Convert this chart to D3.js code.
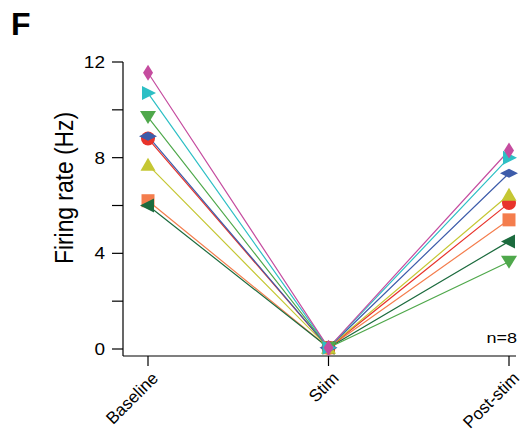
<!DOCTYPE html>
<html>
<head>
<meta charset="utf-8">
<script src="https://cdn.jsdelivr.net/npm/d3@7"></script>
<style>
  body { margin: 0; background: #fff; }
  svg { font-family: "Liberation Sans", Arial, sans-serif; }
</style>
</head>
<body>
<svg id="chart" width="522" height="431"></svg>
<script>
const categories = ["Baseline", "Stim", "Post-stim"];
const yTicks = [0, 4, 8, 12];
const yMinorTicks = [2, 6, 10];

// one unit per array: [Baseline, Stim, Post-stim]
const unitOrange = [6.2, 0.05, 5.4];
const unitDarkGreen = [6.0, 0.05, 4.5];
const unitRed = [8.8, 0.05, 6.1];
const unitYellow = [7.7, 0.05, 6.45];
const unitBlue = [8.9, 0.05, 7.35];
const unitGreen = [9.7, 0.05, 3.65];
const unitCyan = [10.7, 0.05, 8.0];
const unitMagenta = [11.55, 0.05, 8.3];

const units = [unitOrange, unitDarkGreen, unitRed, unitYellow, unitBlue, unitGreen, unitCyan, unitMagenta];
const colors = ["#f47d4d", "#1c6b3e", "#e8332b", "#c5c733", "#3d5caa", "#4fa84b", "#2dbfc5", "#c54c9f"];
const shapes = ["square", "triLeft", "circle", "triUp", "diamondWide", "triDown", "triRight", "diamondTall"];

const svg = d3.select("#chart");
const x = d3.scalePoint().domain(categories).range([148, 509]);
const y = d3.scaleLinear().domain([0, 12]).range([349, 62]);
const axisY = 356;

function shapePath(s) {
    switch (s) {
        case "square": return "M-6.5,-6.5H6.5V6.5H-6.5Z";
        case "circle": return d3.arc()({innerRadius: 0, outerRadius: 7, startAngle: 0, endAngle: 2 * Math.PI});
        case "triUp": return "M0,-7L7.5,6L-7.5,6Z";
        case "triDown": return "M0,7L8,-6L-8,-6Z";
        case "triLeft": return "M-8,0L6,-7L6,7Z";
        case "triRight": return "M8,0L-6,-7L-6,7Z";
        case "diamondWide": return "M-9,0L0,-4.5L9,0L0,4.5Z";
        case "diamondTall": return "M0,-8L5,0L0,8L-5,0Z";
    }
}

// axes
svg.append("line").attr("x1", 123).attr("x2", 123).attr("y1", y(12)).attr("y2", axisY).attr("stroke", "#000").attr("stroke-width", 1.2);
svg.append("line").attr("x1", 123).attr("x2", 516).attr("y1", axisY).attr("y2", axisY).attr("stroke", "#000").attr("stroke-width", 1.2);

svg.selectAll(".ytick").data(yTicks.concat(yMinorTicks)).join("line")
    .attr("x1", 112).attr("x2", 123).attr("y1", d => y(d)).attr("y2", d => y(d))
    .attr("stroke", "#000").attr("stroke-width", 1.2);
svg.selectAll(".ylab").data(yTicks).join("text")
    .attr("transform", d => `translate(105,${y(d)}) scale(1,0.86)`)
    .attr("dy", "0.36em").attr("text-anchor", "end")
    .style("font-size", "19px").text(d => d);

svg.selectAll(".xtick").data(categories).join("line")
    .attr("x1", d => x(d)).attr("x2", d => x(d)).attr("y1", axisY).attr("y2", axisY + 10)
    .attr("stroke", "#000").attr("stroke-width", 1.2);
svg.selectAll(".xlab").data(categories).join("text")
    .attr("transform", d => `translate(${x(d) + 7},${axisY + 19}) rotate(-45)`)
    .attr("text-anchor", "end").attr("dy", "0.35em")
    .style("font-size", "17px").text(d => d);

svg.append("text").attr("transform", "translate(73,188) rotate(-90)").attr("text-anchor", "middle")
    .attr("textLength", 152).attr("lengthAdjust", "spacingAndGlyphs")
    .style("font-size", "26px").text("Firing rate (Hz)");

svg.append("text").attr("x", 11).attr("y", 35).style("font-size", "32px").style("font-weight", "bold").text("F");
svg.append("text").attr("transform", "translate(517,343) scale(1,0.85)").attr("text-anchor", "end")
    .style("font-size", "18px").text("n=8");

// lines
const line = d3.line().x((d, i) => x(categories[i])).y(d => y(d));
svg.append("g").selectAll("path").data(units).join("path")
    .attr("d", line).attr("fill", "none").attr("stroke", (d, i) => colors[i]).attr("stroke-width", 1.2);

// markers
units.forEach((u, i) => {
    svg.append("g").selectAll("path").data(u).join("path")
        .attr("transform", (d, j) => `translate(${x(categories[j])},${y(d)})`)
        .attr("d", shapePath(shapes[i])).attr("fill", colors[i]);
});
</script>
</body>
</html>
